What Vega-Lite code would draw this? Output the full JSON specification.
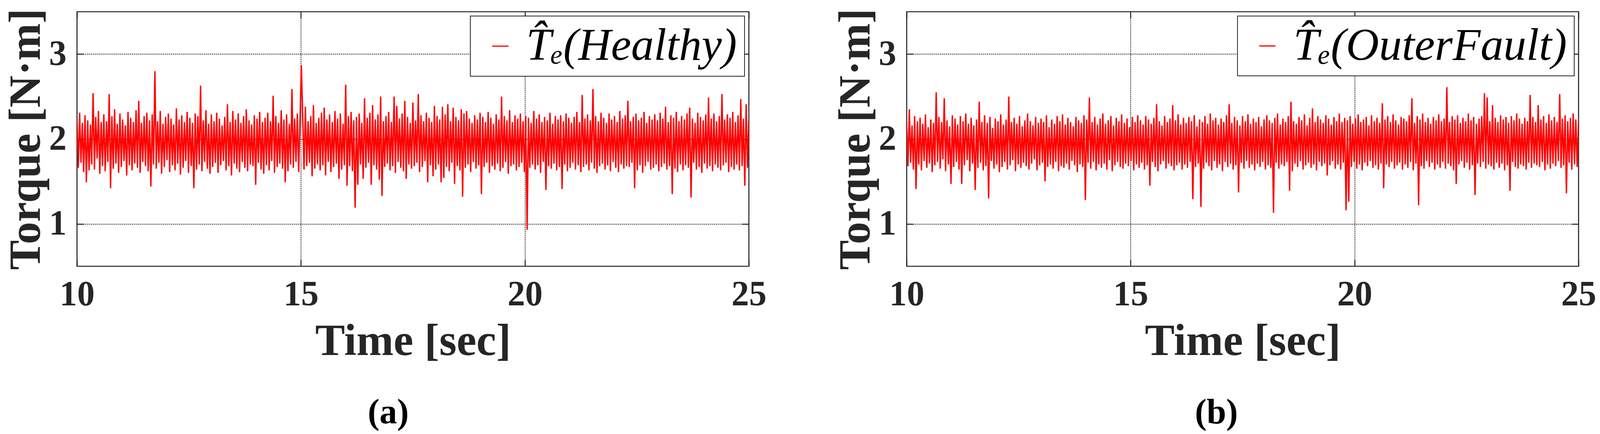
{
  "$schema": "https://vega.github.io/schema/vega-lite/v6.json",
  "background": "white",
  "padding": {"left": 8, "top": 20, "right": 0, "bottom": 0},
  "data": {
    "values": "t,a,b\n10,2.24,2.2\n10.03,1.66,1.68\n10.06,2.31,2.35\n10.09,1.72,1.72\n10.12,2.19,2.16\n10.15,1.61,1.64\n10.18,2.28,2.27\n10.21,1.49,1.41\n10.24,2.22,2.21\n10.27,1.63,1.7\n10.3,2.17,2.25\n10.33,1.7,1.63\n10.36,2.54,2.18\n10.39,1.64,1.74\n10.42,2.26,2.29\n10.45,1.77,1.66\n10.48,2.33,2.14\n10.51,1.59,1.71\n10.54,2.2,2.23\n10.57,1.68,1.61\n10.6,2.29,2.19\n10.63,1.62,1.69\n10.66,2.21,2.55\n10.69,1.73,1.73\n10.72,2.53,2.26\n10.75,1.42,1.65\n10.78,2.27,2.2\n10.81,1.65,1.76\n10.84,2.35,2.48\n10.87,1.71,1.62\n10.9,2.18,2.22\n10.93,1.6,1.7\n10.96,2.3,2.15\n10.99,1.67,1.47\n11.02,2.23,2.28\n11.05,1.74,1.67\n11.08,2.16,2.24\n11.11,1.57,1.73\n11.14,2.32,2.17\n11.17,1.69,1.64\n11.2,2.25,2.27\n11.23,1.63,1.47\n11.26,2.2,2.21\n11.29,1.71,1.69\n11.32,2.34,2.3\n11.35,1.66,1.75\n11.38,2.45,2.18\n11.41,1.6,1.62\n11.44,2.19,2.25\n11.47,1.73,1.71\n11.5,2.27,2.16\n11.53,1.68,1.4\n11.56,2.31,2.23\n11.59,1.62,1.66\n11.62,2.22,2.44\n11.65,1.44,1.72\n11.68,2.29,2.2\n11.71,1.7,1.63\n11.74,2.8,2.28\n11.77,1.65,1.68\n11.8,2.21,2.19\n11.83,1.72,1.3\n11.86,2.33,2.26\n11.89,1.59,1.74\n11.92,2.18,2.13\n11.95,1.67,1.65\n11.98,2.26,2.24\n12.01,1.75,1.7\n12.04,2.3,2.21\n12.07,1.61,1.61\n12.1,2.24,2.29\n12.13,1.69,1.67\n12.16,2.17,2.17\n12.19,1.63,1.73\n12.22,2.36,2.23\n12.25,1.71,1.64\n12.28,2.23,2.5\n12.31,1.58,1.69\n12.34,2.28,2.2\n12.37,1.66,1.75\n12.4,2.2,2.25\n12.43,1.74,1.62\n12.46,2.32,2.18\n12.49,1.6,1.7\n12.52,2.25,2.27\n12.55,1.68,1.66\n12.58,2.19,2.15\n12.61,1.42,1.72\n12.64,2.3,2.22\n12.67,1.64,1.68\n12.7,2.27,2.3\n12.73,1.7,1.64\n12.76,2.63,2.21\n12.79,1.62,1.71\n12.82,2.22,2.16\n12.85,1.73,1.76\n12.88,2.34,2.26\n12.91,1.65,1.63\n12.94,2.18,2.19\n12.97,1.59,1.69\n13,2.29,2.24\n13.03,1.67,1.72\n13.06,2.21,2.2\n13.09,1.72,1.5\n13.12,2.31,2.28\n13.15,1.6,1.67\n13.18,2.24,2.14\n13.21,1.69,1.7\n13.24,2.16,2.23\n13.27,1.74,1.65\n13.3,2.26,2.18\n13.33,1.63,1.73\n13.36,2.41,2.27\n13.39,1.68,1.62\n13.42,2.2,2.21\n13.45,1.57,1.68\n13.48,2.33,2.29\n13.51,1.71,1.66\n13.54,2.23,2.17\n13.57,1.65,1.71\n13.6,2.3,2.25\n13.63,1.61,1.64\n13.66,2.19,2.2\n13.69,1.73,1.74\n13.72,2.27,2.15\n13.75,1.66,1.69\n13.78,2.35,2.26\n13.81,1.62,1.61\n13.84,2.22,2.22\n13.87,1.7,1.7\n13.9,2.17,2.19\n13.93,1.68,1.67\n13.96,2.28,2.28\n13.99,1.46,1.28\n14.02,2.24,2.23\n14.05,1.72,1.72\n14.08,2.32,2.49\n14.11,1.64,1.65\n14.14,2.2,2.2\n14.17,1.59,1.73\n14.2,2.25,2.26\n14.23,1.69,1.63\n14.26,2.31,2.17\n14.29,1.63,1.7\n14.32,2.21,2.24\n14.35,1.74,1.66\n14.38,2.51,2.3\n14.41,1.6,1.71\n14.44,2.27,2.18\n14.47,1.67,1.64\n14.5,2.19,2.22\n14.53,1.71,1.75\n14.56,2.34,2.27\n14.59,1.65,1.62\n14.62,2.23,2.16\n14.65,1.49,1.69\n14.68,2.29,2.25\n14.71,1.62,1.73\n14.74,2.18,2.21\n14.77,1.7,1.67\n14.8,2.59,2.29\n14.83,1.66,1.65\n14.86,2.24,2.19\n14.89,1.73,1.71\n14.92,2.3,2.24\n14.95,1.61,1.68\n14.98,2.22,2.14\n15.01,2.87,1.74\n15.04,2.26,2.26\n15.07,1.64,1.63\n15.1,2.38,2.2\n15.13,1.68,1.7\n15.16,2.21,2.28\n15.19,1.72,1.66\n15.22,2.27,2.22\n15.25,1.56,1.72\n15.28,2.4,2.17\n15.31,1.65,1.64\n15.34,2.19,2.27\n15.37,1.7,1.69\n15.4,2.25,2.23\n15.43,1.63,1.45\n15.46,2.31,2.18\n15.49,1.69,1.73\n15.52,2.37,2.25\n15.55,1.57,1.67\n15.58,2.23,2.41\n15.61,1.73,1.62\n15.64,2.29,2.21\n15.67,1.61,1.7\n15.7,2.2,2.16\n15.73,1.67,1.74\n15.76,2.33,2.27\n15.79,1.71,1.65\n15.82,2.24,2.2\n15.85,1.53,1.71\n15.88,2.3,2.24\n15.91,1.64,1.68\n15.94,2.18,2.4\n15.97,1.69,1.63\n16,2.64,2.22\n16.03,1.45,1.69\n16.06,2.27,2.29\n16.09,1.68,1.72\n16.12,2.32,2.17\n16.15,1.62,1.64\n16.18,2.22,2.25\n16.21,1.19,1.7\n16.24,2.26,2.19\n16.27,1.46,1.66\n16.3,2.3,2.26\n16.33,1.7,1.73\n16.36,2.19,2.21\n16.39,1.53,1.29\n16.42,2.48,2.28\n16.45,1.66,1.67\n16.48,2.25,2.15\n16.51,1.72,1.71\n16.54,2.31,2.23\n16.57,1.46,1.2\n16.6,2.4,2.2\n16.63,1.69,1.65\n16.66,2.23,2.27\n16.69,1.64,1.72\n16.72,2.29,2.18\n16.75,1.52,1.68\n16.78,2.5,2.3\n16.81,1.33,1.63\n16.84,2.21,2.22\n16.87,1.67,1.74\n16.9,2.27,2.25\n16.93,1.71,1.66\n16.96,2.32,2.17\n16.99,1.63,1.7\n17.02,2.2,2.24\n17.05,1.68,1.62\n17.08,2.5,2.2\n17.11,1.6,1.73\n17.14,2.39,2.28\n17.17,1.73,1.67\n17.2,2.24,2.41\n17.23,1.66,1.71\n17.26,2.3,2.19\n17.29,1.62,1.64\n17.32,2.45,2.26\n17.35,1.53,1.69\n17.38,2.26,2.22\n17.41,1.7,1.37\n17.44,2.19,2.16\n17.47,1.65,1.72\n17.5,2.43,2.27\n17.53,1.68,1.65\n17.56,2.22,2.21\n17.59,1.72,1.74\n17.62,2.53,2.29\n17.65,1.61,1.66\n17.68,2.28,2.18\n17.71,1.67,1.7\n17.74,2.21,2.24\n17.77,1.74,1.63\n17.8,2.31,2.2\n17.83,1.49,1.71\n17.86,2.25,2.26\n17.89,1.69,1.67\n17.92,2.2,2.15\n17.95,1.56,1.73\n17.98,2.39,2.23\n18.01,1.64,1.64\n18.04,2.27,2.28\n18.07,1.7,1.69\n18.1,2.23,2.22\n18.13,1.49,1.66\n18.16,2.38,2.19\n18.19,1.54,1.13\n18.22,2.29,2.25\n18.25,1.67,1.72\n18.28,2.41,2.3\n18.31,1.62,1.65\n18.34,2.21,2.17\n18.37,1.72,1.7\n18.4,2.37,2.24\n18.43,1.47,1.68\n18.46,2.26,2.2\n18.49,1.68,1.73\n18.52,2.22,2.27\n18.55,1.63,1.39\n18.58,2.35,2.44\n18.61,1.32,1.62\n18.64,2.3,2.21\n18.67,1.66,1.71\n18.7,2.33,2.18\n18.73,1.7,1.67\n18.76,2.24,2.26\n18.79,1.61,1.74\n18.82,2.19,2.22\n18.85,1.73,1.64\n18.88,2.28,2.29\n18.91,1.65,1.69\n18.94,2.23,2.16\n18.97,1.69,1.72\n19,2.31,2.25\n19.03,1.35,1.66\n19.06,2.26,2.36\n19.09,1.67,1.7\n19.12,2.2,2.2\n19.15,1.72,1.63\n19.18,2.32,2.27\n19.21,1.6,1.73\n19.24,2.25,2.23\n19.27,1.68,1.68\n19.3,2.18,2.19\n19.33,1.64,1.71\n19.36,2.29,2.28\n19.39,1.71,1.57\n19.42,2.23,2.24\n19.45,1.62,1.69\n19.48,2.5,2.17\n19.51,1.66,1.74\n19.54,2.27,2.26\n19.57,1.73,1.65\n19.6,2.22,2.21\n19.63,1.59,1.7\n19.66,2.34,2.3\n19.69,1.68,1.64\n19.72,2.2,2.2\n19.75,1.7,1.72\n19.78,2.28,2.25\n19.81,1.63,1.16\n19.84,2.24,2.22\n19.87,1.67,1.26\n19.9,2.3,2.27\n19.93,1.72,1.67\n19.96,2.21,2.18\n19.99,1.61,1.73\n20.02,2.27,2.24\n20.05,0.93,1.65\n20.08,2.25,2.29\n20.11,1.66,1.7\n20.14,2.19,2.2\n20.17,1.7,1.63\n20.2,2.33,2.23\n20.23,1.64,1.72\n20.26,2.24,2.26\n20.29,1.69,1.68\n20.32,2.29,2.16\n20.35,1.6,1.74\n20.38,2.2,2.28\n20.41,1.73,1.66\n20.44,2.26,2.21\n20.47,1.4,1.69\n20.5,2.22,2.25\n20.53,1.68,1.64\n20.56,2.31,2.19\n20.59,1.65,1.71\n20.62,2.18,2.42\n20.65,1.71,1.42\n20.68,2.27,2.23\n20.71,1.63,1.7\n20.74,2.23,2.27\n20.77,1.67,1.67\n20.8,2.28,2.2\n20.83,1.41,1.73\n20.86,2.21,2.29\n20.89,1.7,1.65\n20.92,2.3,2.22\n20.95,1.62,1.69\n20.98,2.25,2.17\n21.01,1.66,1.72\n21.04,2.19,2.26\n21.07,1.72,1.64\n21.1,2.26,2.24\n21.13,1.64,1.7\n21.16,2.32,2.21\n21.19,1.69,1.66\n21.22,2.2,2.28\n21.25,1.61,1.73\n21.28,2.52,2.48\n21.31,1.67,1.63\n21.34,2.24,2.19\n21.37,1.7,1.71\n21.4,2.29,2.27\n21.43,1.63,1.22\n21.46,2.22,2.23\n21.49,1.72,1.68\n21.52,2.59,2.3\n21.55,1.65,1.65\n21.58,2.27,2.2\n21.61,1.6,1.74\n21.64,2.21,2.25\n21.67,1.68,1.67\n21.7,2.31,2.18\n21.73,1.71,1.72\n21.76,2.25,2.26\n21.79,1.64,1.64\n21.82,2.19,2.22\n21.85,1.69,1.7\n21.88,2.3,2.29\n21.91,1.62,1.66\n21.94,2.23,2.21\n21.97,1.73,1.73\n22,2.27,2.24\n22.03,1.66,1.65\n22.06,2.2,2.61\n22.09,1.61,1.71\n22.12,2.33,2.2\n22.15,1.7,1.68\n22.18,2.24,2.27\n22.21,1.65,1.63\n22.24,2.28,2.23\n22.27,1.68,1.47\n22.3,2.45,2.28\n22.33,1.67,1.7\n22.36,2.21,2.19\n22.39,1.72,1.74\n22.42,2.26,2.25\n22.45,1.42,1.66\n22.48,2.3,2.21\n22.51,1.63,1.72\n22.54,2.22,2.3\n22.57,1.69,1.64\n22.6,2.25,2.22\n22.63,1.6,1.69\n22.66,2.32,2.26\n22.69,1.68,1.34\n22.72,2.19,2.18\n22.75,1.73,1.71\n22.78,2.27,2.24\n22.81,1.64,1.67\n22.84,2.23,2.27\n22.87,1.66,1.73\n22.9,2.29,2.54\n22.93,1.7,1.65\n22.96,2.22,2.49\n22.99,1.62,1.7\n23.02,2.31,2.21\n23.05,1.67,1.68\n23.08,2.24,2.4\n23.11,1.71,1.64\n23.14,2.38,2.25\n23.17,1.64,1.72\n23.2,2.2,2.2\n23.23,1.68,1.66\n23.26,2.28,2.28\n23.29,1.35,1.71\n23.32,2.25,2.23\n23.35,1.65,1.63\n23.38,2.32,2.26\n23.41,1.61,1.69\n23.44,2.21,2.19\n23.47,1.7,1.39\n23.5,2.27,2.27\n23.53,1.63,1.73\n23.56,2.23,2.22\n23.59,1.69,1.67\n23.62,2.3,2.3\n23.65,1.66,1.65\n23.68,2.37,2.24\n23.71,1.31,1.7\n23.74,2.24,2.18\n23.77,1.72,1.68\n23.8,2.19,2.25\n23.83,1.64,1.64\n23.86,2.31,2.21\n23.89,1.67,1.72\n23.92,2.26,2.52\n23.95,1.6,1.66\n23.98,2.22,2.26\n24.01,1.71,1.71\n24.04,2.29,2.2\n24.07,1.65,1.69\n24.1,2.49,2.4\n24.13,1.68,1.67\n24.16,2.24,2.23\n24.19,1.62,1.73\n24.22,2.3,2.27\n24.25,1.7,1.63\n24.28,2.21,2.19\n24.31,1.66,1.7\n24.34,2.27,2.29\n24.37,1.63,1.65\n24.4,2.53,2.22\n24.43,1.69,1.71\n24.46,2.23,2.26\n24.49,1.72,1.68\n24.52,2.29,2.2\n24.55,1.61,1.74\n24.58,2.25,2.53\n24.61,1.67,1.66\n24.64,2.32,2.24\n24.67,1.64,1.69\n24.7,2.2,2.28\n24.73,1.7,1.36\n24.76,2.28,2.21\n24.79,1.63,1.72\n24.82,2.47,2.25\n24.85,1.68,1.64\n24.88,2.24,2.3\n24.91,1.45,1.7\n24.94,2.41,2.23\n24.97,1.66,1.67\n25,2.22,2.2",
    "format": {"type": "csv", "parse": {"t": "number", "a": "number", "b": "number"}}
  },
  "spacing": 168,
  "resolve": {"scale": {"color": "independent"}, "legend": {"color": "independent"}},
  "hconcat": [
    {
      "width": 1720,
      "height": 651,
      "title": {"text": "(a)", "dx": -63},
      "layer": [
        {
          "mark": {"type": "line", "strokeWidth": 3.5, "strokeJoin": "bevel", "clip": true},
          "encoding": {
            "x": {"field": "t", "type": "quantitative", "scale": {"domain": [10, 25], "nice": false, "zero": false},
              "axis": {"orient": "bottom", "values": [10, 15, 20, 25], "title": "Time [sec]", "ticks": false}},
            "y": {"field": "a", "type": "quantitative", "scale": {"domain": [0.5, 3.5], "nice": false, "zero": false},
              "axis": {"orient": "left", "values": [1, 2, 3], "title": "Torque [N·m]", "ticks": false}},
            "color": {"datum": "T\u0302\u2091(Healthy)", "scale": {"range": ["#ff0000"]},
              "legend": {"title": null, "orient": "top-right", "offset": 11, "labelFontSize": 116, "padding": 19}}
          }
        },
        {
          "mark": {"type": "line", "opacity": 0},
          "encoding": {
            "x": {"field": "t", "type": "quantitative", "axis": {"orient": "top", "values": [10, 15, 20, 25], "labels": false, "title": null, "grid": false, "tickSize": -17}},
            "y": {"field": "a", "type": "quantitative", "axis": {"orient": "right", "values": [1, 2, 3], "labels": false, "title": null, "grid": false, "tickSize": -17}}
          }
        },
        {
          "mark": {"type": "line", "opacity": 0},
          "encoding": {
            "x": {"field": "t", "type": "quantitative", "axis": {"orient": "bottom", "values": [10, 15, 20, 25], "labels": false, "title": null, "grid": false, "tickSize": -17}},
            "y": {"field": "a", "type": "quantitative", "axis": {"orient": "left", "values": [1, 2, 3], "labels": false, "title": null, "grid": false, "tickSize": -17}}
          }
        }
      ],
      "resolve": {"axis": {"x": "independent", "y": "independent"}}
    },
    {
      "width": 1720,
      "height": 651,
      "title": {"text": "(b)", "dx": -67},
      "layer": [
        {
          "mark": {"type": "line", "strokeWidth": 3.5, "strokeJoin": "bevel", "clip": true},
          "encoding": {
            "x": {"field": "t", "type": "quantitative", "scale": {"domain": [10, 25], "nice": false, "zero": false},
              "axis": {"orient": "bottom", "values": [10, 15, 20, 25], "title": "Time [sec]", "ticks": false}},
            "y": {"field": "b", "type": "quantitative", "scale": {"domain": [0.5, 3.5], "nice": false, "zero": false},
              "axis": {"orient": "left", "values": [1, 2, 3], "title": "Torque [N·m]", "ticks": false}},
            "color": {"datum": "T\u0302\u2091(OuterFault)", "scale": {"range": ["#ff0000"]},
              "legend": {"title": null, "orient": "top-right", "offset": 11, "labelFontSize": 117, "padding": 18}}
          }
        },
        {
          "mark": {"type": "line", "opacity": 0},
          "encoding": {
            "x": {"field": "t", "type": "quantitative", "axis": {"orient": "top", "values": [10, 15, 20, 25], "labels": false, "title": null, "grid": false, "tickSize": -17}},
            "y": {"field": "b", "type": "quantitative", "axis": {"orient": "right", "values": [1, 2, 3], "labels": false, "title": null, "grid": false, "tickSize": -17}}
          }
        },
        {
          "mark": {"type": "line", "opacity": 0},
          "encoding": {
            "x": {"field": "t", "type": "quantitative", "axis": {"orient": "bottom", "values": [10, 15, 20, 25], "labels": false, "title": null, "grid": false, "tickSize": -17}},
            "y": {"field": "b", "type": "quantitative", "axis": {"orient": "left", "values": [1, 2, 3], "labels": false, "title": null, "grid": false, "tickSize": -17}}
          }
        }
      ],
      "resolve": {"axis": {"x": "independent", "y": "independent"}}
    }
  ],
  "config": {
    "font": "Liberation Serif",
    "view": {"stroke": "#262626", "strokeWidth": 2.5},
    "axis": {
      "labelFont": "Liberation Serif", "labelFontSize": 90, "labelFontWeight": "bold", "labelColor": "#262626",
      "titleFont": "Liberation Serif", "titleFontSize": 114, "titleFontWeight": "bold", "titleColor": "#262626",
      "tickColor": "#262626", "tickWidth": 2.5,
      "gridColor": "#262626", "gridDash": [3, 2], "gridWidth": 2, "gridOpacity": 1,
      "domain": false, "labelFlush": false, "labelOverlap": false
    },
    "axisX": {"labelPadding": 28, "titlePadding": 19},
    "axisY": {"labelPadding": 27, "titlePadding": 0},
    "legend": {
      "symbolType": "stroke", "symbolStrokeWidth": 3, "symbolSize": 1764,
      "labelFont": "Liberation Serif", "labelFontStyle": "italic", "labelColor": "black",
      "labelLimit": 0, "labelOffset": 8, "strokeColor": "#262626", "strokeWidth": 2, "fillColor": "white"
    },
    "title": {"orient": "bottom", "anchor": "middle", "font": "Liberation Serif", "fontSize": 90, "fontWeight": "bold", "color": "black", "offset": 82}
  }
}
